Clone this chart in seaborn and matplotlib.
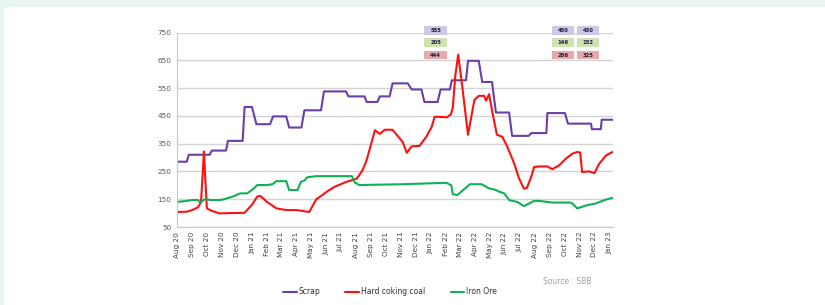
import pandas as pd
import numpy as np
import matplotlib
matplotlib.use('Agg')
import matplotlib.pyplot as plt
import matplotlib.dates as mdates
from matplotlib.patches import Rectangle, FancyBboxPatch
import seaborn as sns

# --- dados ---
scrap_dates = ['2020-08-01', '2020-08-21', '2020-08-25', '2020-10-07', '2020-10-11', '2020-11-09',
               '2020-11-13', '2020-12-13', '2020-12-17', '2021-01-01', '2021-01-10', '2021-02-07',
               '2021-02-13', '2021-03-12', '2021-03-18', '2021-04-12', '2021-04-18', '2021-05-22',
               '2021-05-28', '2021-07-12', '2021-07-17', '2021-08-19', '2021-08-23', '2021-09-14',
               '2021-09-19', '2021-10-09', '2021-10-15', '2021-11-15', '2021-11-23', '2021-12-13',
               '2021-12-19', '2022-01-15', '2022-01-21', '2022-02-09', '2022-02-13', '2022-03-14',
               '2022-03-18', '2022-04-09', '2022-04-16', '2022-05-06', '2022-05-14', '2022-06-10',
               '2022-06-16', '2022-07-20', '2022-07-25', '2022-08-25', '2022-08-27', '2022-10-02',
               '2022-10-08', '2022-11-24', '2022-11-26', '2022-12-14', '2022-12-16', '2023-01-07']
scrap_prices = [285, 285, 310, 310, 325, 325, 360, 360, 482, 482, 420, 420, 448, 448, 408, 408,
                470, 470, 538, 538, 520, 520, 500, 500, 520, 520, 567, 567, 545, 545, 500, 500,
                545, 545, 578, 578, 648, 648, 572, 572, 462, 462, 378, 378, 388, 388, 460, 460,
                422, 422, 402, 402, 436, 436]

coal_dates = ['2020-08-01', '2020-08-21', '2020-09-01', '2020-09-13', '2020-09-19', '2020-09-23',
              '2020-09-25', '2020-09-27', '2020-10-01', '2020-10-11', '2020-10-27', '2020-11-17',
              '2020-12-17', '2021-01-01', '2021-01-12', '2021-01-18', '2021-02-01', '2021-02-20',
              '2021-03-12', '2021-04-02', '2021-04-28', '2021-05-12', '2021-06-02', '2021-06-18',
              '2021-07-12', '2021-08-03', '2021-08-15', '2021-08-23', '2021-09-09', '2021-09-19',
              '2021-09-29', '2021-10-15', '2021-10-30', '2021-11-05', '2021-11-13', '2021-11-23',
              '2021-12-09', '2021-12-23', '2022-01-03', '2022-01-09', '2022-02-03', '2022-02-11',
              '2022-02-15', '2022-02-20', '2022-02-26', '2022-03-06', '2022-03-18', '2022-03-31',
              '2022-04-09', '2022-04-20', '2022-04-24', '2022-04-30', '2022-05-06', '2022-05-16',
              '2022-05-27', '2022-06-06', '2022-06-20', '2022-06-30', '2022-07-10', '2022-07-16',
              '2022-07-25', '2022-07-31', '2022-08-10', '2022-08-27', '2022-09-06', '2022-09-20',
              '2022-10-04', '2022-10-17', '2022-10-27', '2022-11-02', '2022-11-06', '2022-11-20',
              '2022-12-01', '2022-12-11', '2022-12-25', '2023-01-07']
coal_prices = [104, 105, 111, 121, 140, 260, 322, 250, 117, 108, 99, 100, 101, 130, 160, 162,
               140, 117, 111, 111, 104, 149, 176, 194, 212, 224, 255, 290, 398, 385, 400, 400,
               368, 355, 317, 340, 342, 375, 411, 447, 445, 455, 480, 593, 670, 560, 382, 507,
               522, 522, 505, 528, 470, 382, 375, 340, 280, 226, 188, 190, 230, 266, 268, 268,
               258, 272, 296, 314, 320, 318, 248, 250, 244, 278, 308, 320]

iron_dates = ['2020-08-01', '2020-08-21', '2020-09-01', '2020-09-13', '2020-09-17', '2020-09-29',
              '2020-10-07', '2020-10-27', '2020-11-03', '2020-11-22', '2020-12-08', '2020-12-22',
              '2021-01-01', '2021-01-12', '2021-02-01', '2021-02-12', '2021-02-20', '2021-03-12',
              '2021-03-18', '2021-04-04', '2021-04-11', '2021-04-18', '2021-04-24', '2021-05-12',
              '2021-07-24', '2021-07-30', '2021-08-08', '2021-11-05', '2022-02-02', '2022-02-12',
              '2022-02-15', '2022-02-24', '2022-03-01', '2022-03-22', '2022-04-15', '2022-04-30',
              '2022-05-11', '2022-05-21', '2022-05-31', '2022-06-10', '2022-06-27', '2022-07-10',
              '2022-07-31', '2022-08-10', '2022-09-06', '2022-10-12', '2022-10-17', '2022-10-27',
              '2022-11-15', '2022-12-04', '2022-12-25', '2023-01-07']
iron_prices = [140, 144, 147, 147, 138, 152, 147, 147, 149, 159, 171, 171, 183, 201, 201, 204,
               215, 215, 183, 183, 213, 217, 229, 233, 233, 210, 201, 204, 209, 200, 168, 165,
               172, 204, 204, 189, 185, 177, 171, 147, 140, 125, 144, 144, 138, 138, 135, 117,
               128, 135, 149, 155]

# caixas de valores no topo
box_dates = ['2022-01-11', '2022-09-28', '2022-11-18']
box_scrap = ['555', '450', '430']
box_iron = ['205', '146', '152']
box_coal = ['444', '286', '325']

series_names = ['Scrap', 'Hard coking coal', 'Iron Ore']
colors = {'Scrap': '#6a3fa8', 'Hard coking coal': '#ff1010', 'Iron Ore': '#10b055'}

df = pd.concat([
    pd.DataFrame({'date': pd.to_datetime(scrap_dates), 'price': scrap_prices, 'series': 'Scrap'}),
    pd.DataFrame({'date': pd.to_datetime(coal_dates), 'price': coal_prices, 'series': 'Hard coking coal'}),
    pd.DataFrame({'date': pd.to_datetime(iron_dates), 'price': iron_prices, 'series': 'Iron Ore'}),
], ignore_index=True)

sns.set_style('white')
plt.rcParams['font.family'] = ['DejaVu Sans']

fig = plt.figure(figsize=(8.25, 3.05), dpi=100, facecolor='#e8f4f2')
# painel branco com canto arredondado
panel = FancyBboxPatch((4 / 825, -0.2), 1.2, 298 / 305 + 0.2, transform=fig.transFigure,
                       boxstyle='round,pad=0,rounding_size=0.012', facecolor='white',
                       edgecolor='none', zorder=0)
fig.add_artist(panel)

ax = fig.add_axes([177 / 825, 78 / 305, 436 / 825, 194.5 / 305])
ax.set_facecolor('white')

sns.lineplot(data=df, x='date', y='price', hue='series', hue_order=series_names,
             palette=colors, linewidth=1.5, estimator=None, ax=ax)

ax.set_ylim(50, 750)
ax.set_yticks(range(50, 751, 100))
ax.set_xlim(pd.Timestamp('2020-08-01'), pd.Timestamp('2023-01-08'))
ax.xaxis.set_major_locator(mdates.MonthLocator())
ax.xaxis.set_major_formatter(mdates.DateFormatter('%b %y'))
ax.set_xlabel('')
ax.set_ylabel('')
ax.yaxis.grid(True, color='#d4d4d4', linewidth=1.0)
ax.set_axisbelow(True)
for s in ['top', 'right']:
    ax.spines[s].set_visible(False)
for s in ['left', 'bottom']:
    ax.spines[s].set_color('#c8c8c8')
    ax.spines[s].set_linewidth(0.8)
ax.tick_params(axis='x', labelsize=5.2, labelrotation=90, length=2, color='#c8c8c8',
               labelcolor='#404040', pad=1.5)
ax.tick_params(axis='y', labelsize=5.2, length=2, color='#c8c8c8', labelcolor='#595959', pad=2)

# caixas com valores
box_rows = [(box_scrap, 758, '#cdc8e6'), (box_iron, 714, '#cfe2b3'), (box_coal, 669, '#e6aaaa')]
half_w = 23
for vals, yc, fc in box_rows:
    for d, v in zip(box_dates, vals):
        xc = mdates.date2num(pd.Timestamp(d))
        rect = Rectangle((xc - half_w, yc - 16), 2 * half_w, 32, facecolor=fc,
                         edgecolor='none', clip_on=False, zorder=5)
        ax.add_patch(rect)
        ax.text(xc, yc, v, ha='center', va='center', fontsize=3.8, fontweight='bold',
                color='#1a1a3a', clip_on=False, zorder=6)

handles, labels = ax.get_legend_handles_labels()
ax.get_legend().remove()
fig.legend(handles, labels, loc='center', bbox_to_anchor=(390 / 825, 13 / 305), ncol=3,
           frameon=False, fontsize=5.5, handlelength=1.8, handletextpad=0.25,
           columnspacing=3.3, labelcolor='#333333')

fig.text(543 / 825, 1 - 282 / 305, 'Source : SBB', fontsize=5.5, color='#a0a0a0', va='center')

fig.savefig('out.png', dpi=100, facecolor=fig.get_facecolor())
